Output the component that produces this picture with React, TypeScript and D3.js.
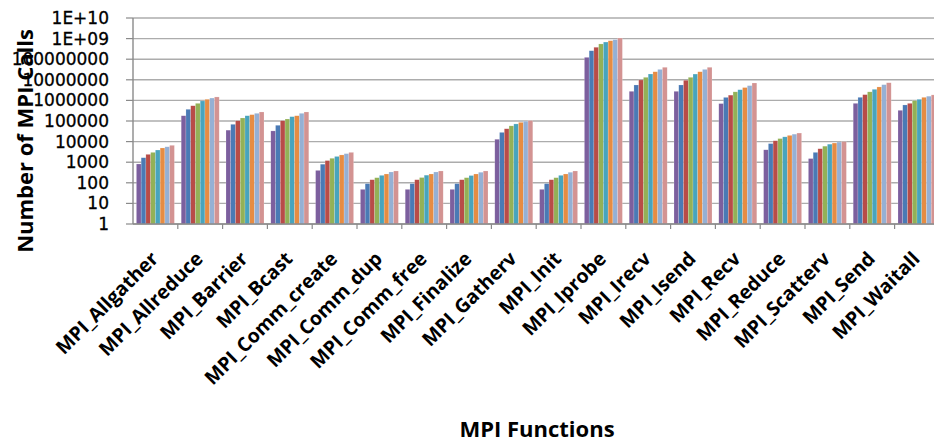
import React from "react";
import * as d3 from "d3";

const categories = [
  "MPI_Allgather", "MPI_Allreduce", "MPI_Barrier", "MPI_Bcast", "MPI_Comm_create",
  "MPI_Comm_dup", "MPI_Comm_free", "MPI_Finalize", "MPI_Gatherv", "MPI_Init",
  "MPI_Iprobe", "MPI_Irecv", "MPI_Isend", "MPI_Recv", "MPI_Reduce",
  "MPI_Scatterv", "MPI_Send", "MPI_Waitall",
];

const seriesNames = ["S1", "S2", "S3", "S4", "S5", "S6", "S7", "S8"];
const seriesColors = ["#7c5f9e", "#4a7ab5", "#b84c48", "#93b157", "#48a4bd", "#e68c43", "#95b0d4", "#d39392"];

// values per category, one per series
const allgather = [820, 1650, 2400, 3000, 3900, 4900, 5600, 6600];
const allreduce = [180000, 370000, 550000, 720000, 940000, 1130000, 1300000, 1470000];
const barrier = [36000, 69000, 103000, 140000, 180000, 203000, 236000, 274000];
const bcast = [33000, 62000, 103000, 125000, 162000, 180000, 236000, 274000];
const commCreate = [400, 800, 1200, 1550, 1900, 2250, 2600, 3000];
const commDup = [48, 91, 141, 177, 230, 268, 335, 375];
const commFree = [48, 91, 141, 180, 235, 268, 335, 375];
const finalize = [48, 91, 141, 177, 225, 268, 325, 375];
const gatherv = [13000, 28000, 42000, 58000, 72000, 86000, 98000, 105000];
const init = [48, 91, 141, 177, 230, 268, 325, 375];
const iprobe = [123000000, 257000000, 380000000, 550000000, 680000000, 790000000, 890000000, 1070000000];
const irecv = [2760000, 5600000, 9800000, 13200000, 19100000, 24600000, 32000000, 40500000];
const isend = [2760000, 5600000, 9500000, 13200000, 19000000, 24600000, 32000000, 40500000];
const recv = [700000, 1400000, 1800000, 2600000, 3300000, 4200000, 5200000, 7000000];
const reduce = [4000, 8000, 11000, 14000, 17000, 20000, 23000, 26000];
const scatterv = [1500, 3000, 4500, 6000, 7500, 8500, 9500, 10000];
const send = [720000, 1410000, 1900000, 2600000, 3450000, 4500000, 5800000, 7200000];
const waitall = [330000, 600000, 720000, 970000, 1130000, 1410000, 1600000, 1850000];

const values = [
  allgather, allreduce, barrier, bcast, commCreate, commDup, commFree, finalize, gatherv,
  init, iprobe, irecv, isend, recv, reduce, scatterv, send, waitall,
];

const yTicks = [1, 10, 100, 1000, 10000, 100000, 1000000, 10000000, 100000000, 1e9, 1e10];
const yTickLabels = ["1", "10", "100", "1000", "10000", "100000", "1000000", "10000000", "100000000", "1E+09", "1E+10"];

const yTitle = "Number of MPI Calls";
const xTitle = "MPI Functions";

export default function App() {
  const W = 934;
  const H = 442;
  const left = 133;
  const step = 44.8;
  const right = left + step * categories.length;
  const top = 18;
  const bottom = 224;

  const x = d3.scaleBand<string>().domain(categories).range([left, right]).paddingInner(0.152).paddingOuter(0.076);
  const xs = d3.scaleBand<string>().domain(seriesNames).range([0, x.bandwidth()]).padding(0);
  const y = d3.scaleLog().domain([1, 1e10]).range([bottom, top]);

  const font = "'Open Sans', 'DejaVu Sans', sans-serif";

  return (
    <svg width={W} height={H} style={{ position: "absolute", left: 0, top: 0, background: "#fff" }}>
      {/* gridlines */}
      {yTicks.map((t, i) => (
        <g key={"g" + i}>
          <line x1={left} x2={W} y1={y(t)} y2={y(t)} stroke="#acacac" strokeWidth={1.4} />
          <line x1={left - 7} x2={left} y1={y(t)} y2={y(t)} stroke="#8a8a8a" strokeWidth={1.2} />
          <text x={109} y={y(t) + 6} textAnchor="end" fontFamily="'DejaVu Sans', sans-serif" fontSize={17} fill="#000" stroke="#000" strokeWidth={0.3}>
            {yTickLabels[i]}
          </text>
        </g>
      ))}
      {/* bars */}
      {categories.map((c, ci) => (
        <g key={c} transform={`translate(${x(c)},0)`}>
          {seriesNames.map((s, si) => (
            <rect
              key={s}
              x={xs(s)}
              y={y(values[ci][si])}
              width={xs.bandwidth()}
              height={bottom - y(values[ci][si])}
              fill={seriesColors[si]}
              stroke="#ffffff"
              strokeOpacity={0.35}
              strokeWidth={0.5}
            />
          ))}
        </g>
      ))}
      {/* axes */}
      <line x1={left} x2={left} y1={top} y2={bottom} stroke="#8a8a8a" strokeWidth={1.4} />
      <line x1={left} x2={W} y1={bottom} y2={bottom} stroke="#8a8a8a" strokeWidth={1.4} />
      {categories.map((c, ci) => (
        <line key={"t" + ci} x1={left + step * (ci + 1)} x2={left + step * (ci + 1)} y1={bottom} y2={bottom + 5} stroke="#8a8a8a" strokeWidth={1.2} />
      ))}
      {/* x labels */}
      {categories.map((c) => {
        const cx = (x(c) as number) + x.bandwidth() / 2 + 4;
        return (
          <text
            key={"l" + c}
            transform={`translate(${cx},260) rotate(-45)`}
            textAnchor="end"
            fontFamily={font}
            fontWeight={700}
            fontSize={19.5}
            fill="#000"
          >
            {c}
          </text>
        );
      })}
      {/* titles */}
      <text transform={`translate(33,141) rotate(-90)`} textAnchor="middle" fontFamily={font} fontWeight={700} fontSize={22} fill="#000">
        {yTitle}
      </text>
      <text x={537} y={437} textAnchor="middle" fontFamily={font} fontWeight={700} fontSize={22} fill="#000">
        {xTitle}
      </text>
    </svg>
  );
}
